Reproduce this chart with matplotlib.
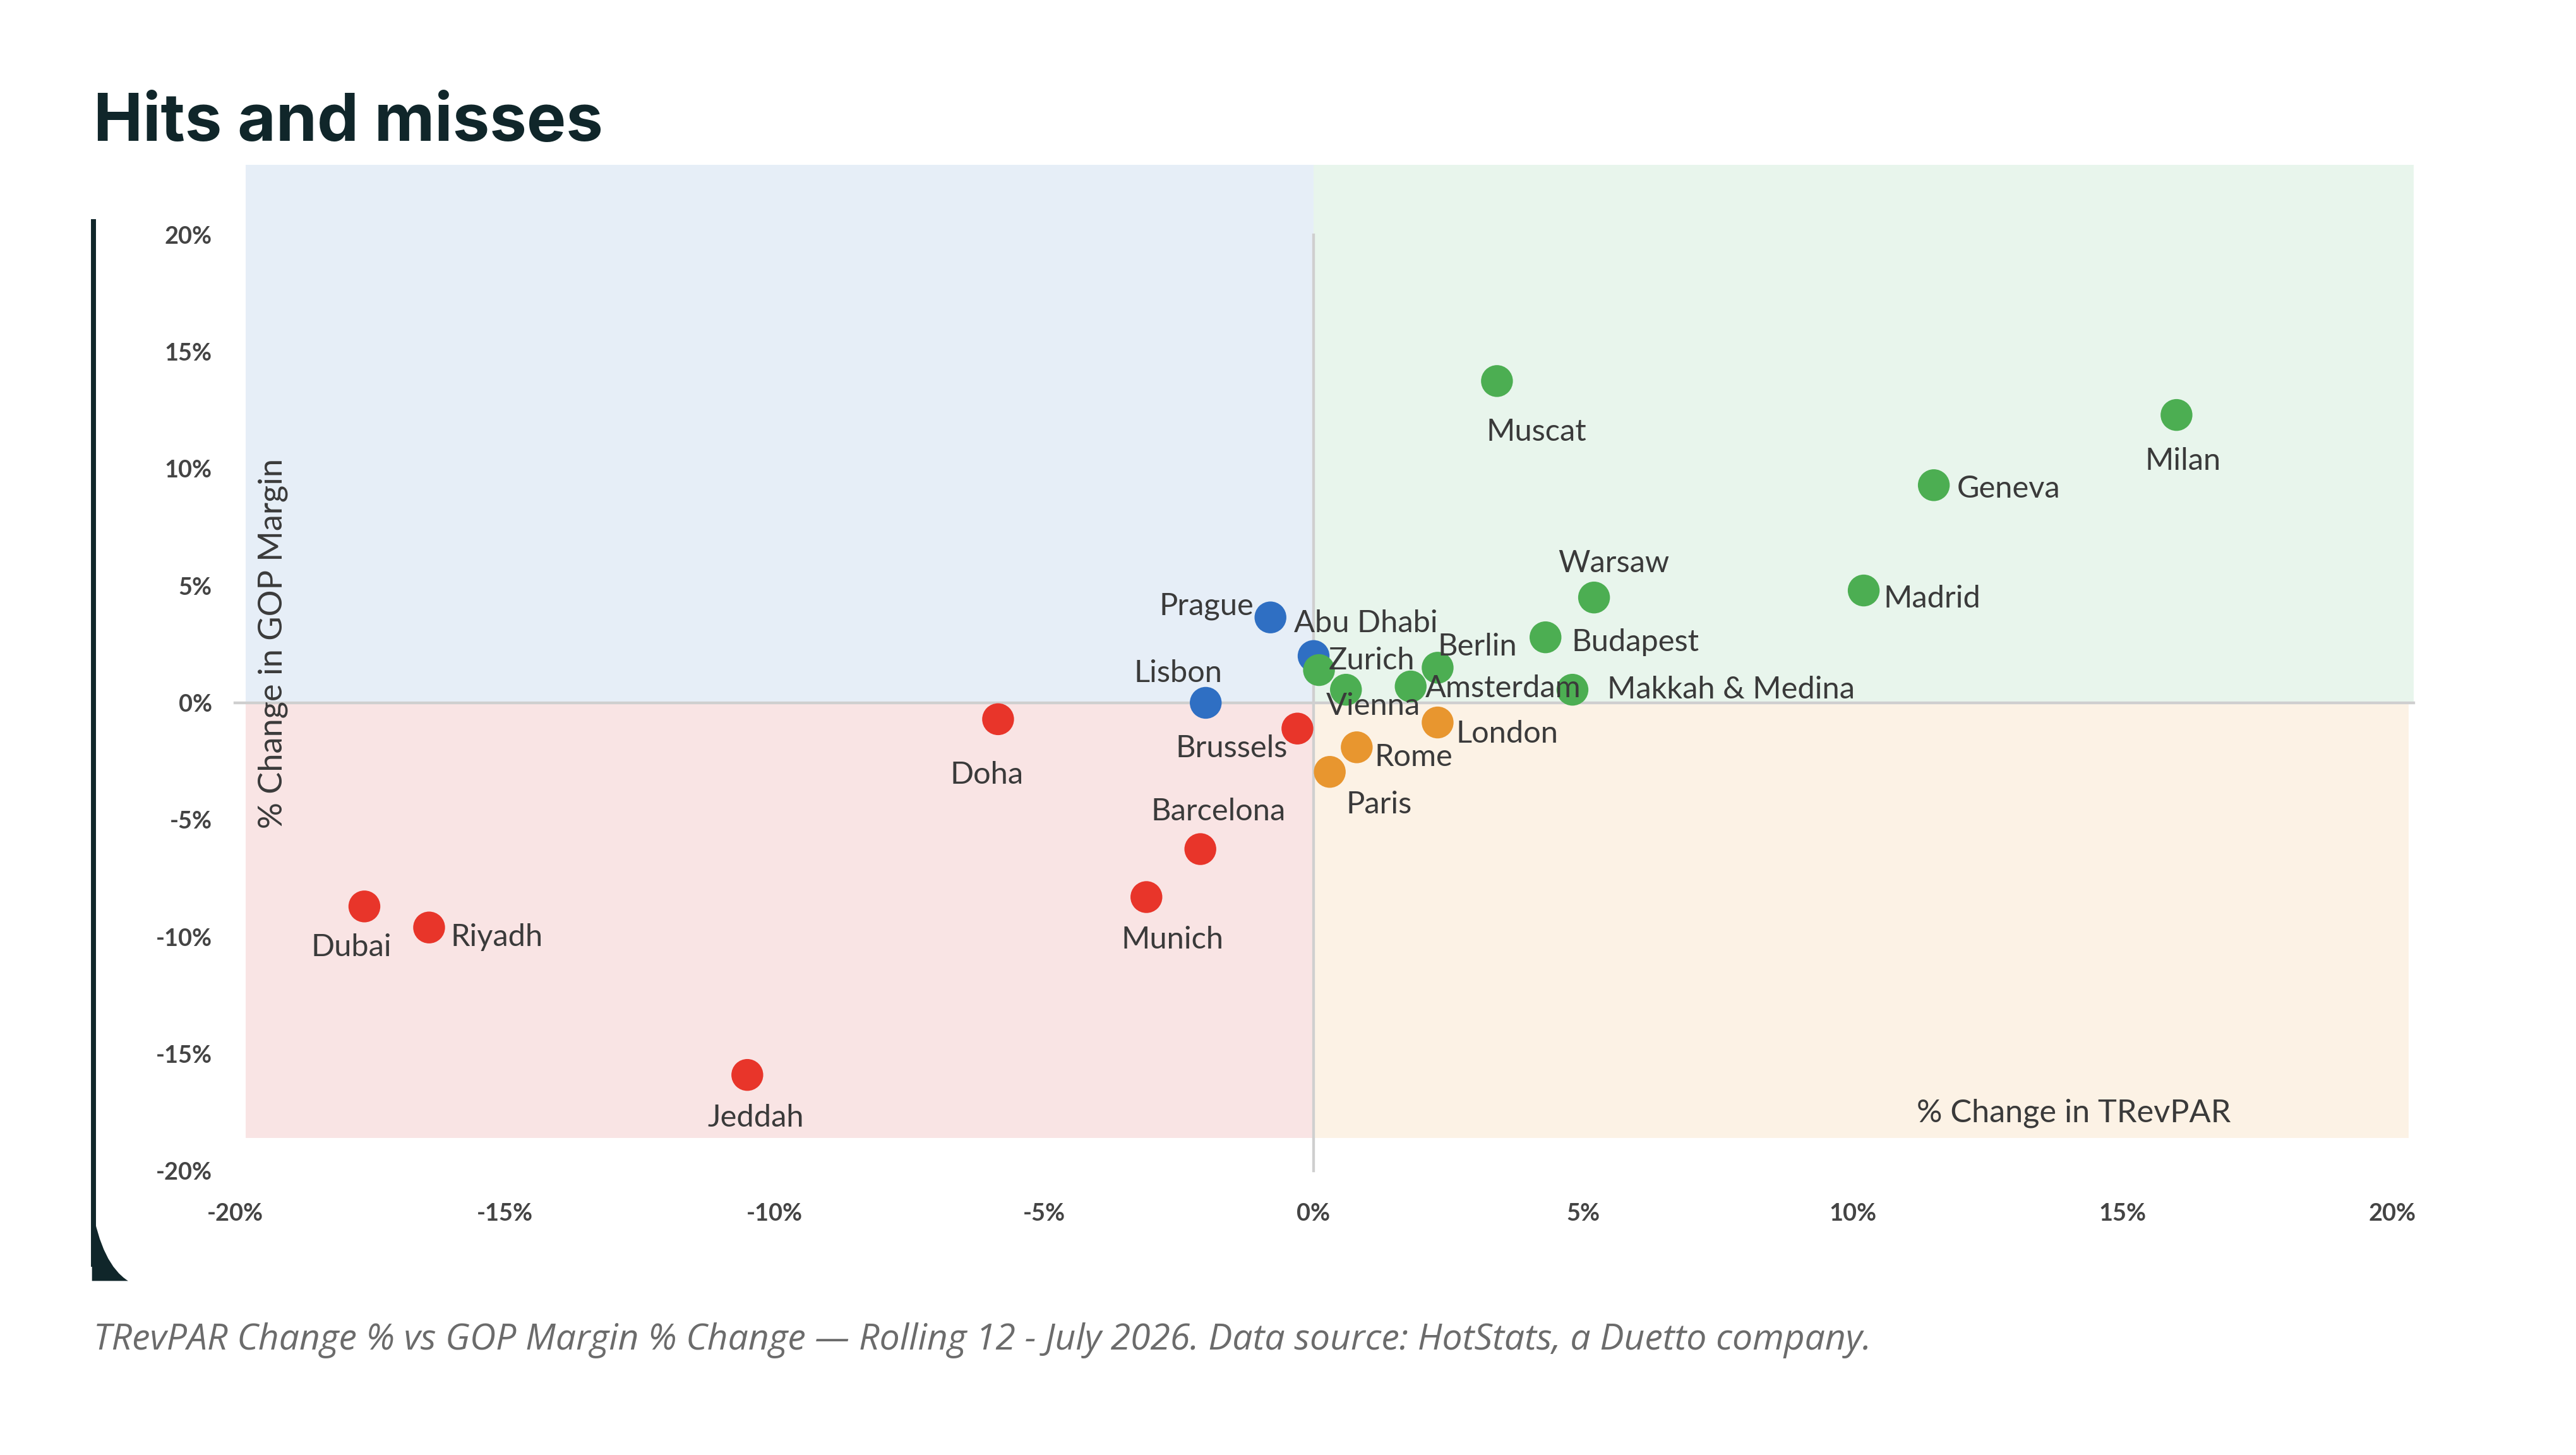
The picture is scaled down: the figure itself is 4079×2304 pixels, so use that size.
import matplotlib
matplotlib.use("Agg")
import matplotlib.pyplot as plt
from matplotlib.patches import Rectangle, PathPatch
from matplotlib.path import Path

cities = ["Prague", "Abu Dhabi", "Lisbon",
          "Zurich", "Vienna", "Amsterdam", "Berlin", "Budapest", "Warsaw",
          "Makkah & Medina", "Madrid", "Geneva", "Milan", "Muscat",
          "Doha", "Brussels", "Barcelona", "Munich", "Dubai", "Riyadh", "Jeddah",
          "London", "Rome", "Paris"]
trevpar = [-0.8, 0.0, -2.0,
           0.1, 0.6, 1.8, 2.3, 4.3, 5.2,
           4.8, 10.2, 11.5, 16.0, 3.4,
           -5.85, -0.3, -2.1, -3.1, -17.6, -16.4, -10.5,
           2.3, 0.8, 0.3]
gop = [3.65, 2.0, 0.0,
       1.4, 0.56, 0.7, 1.5, 2.8, 4.5,
       0.56, 4.8, 9.3, 12.3, 13.75,
       -0.7, -1.1, -6.25, -8.3, -8.7, -9.6, -15.9,
       -0.84, -1.9, -2.95]
groups = ["blue"] * 3 + ["green"] * 11 + ["red"] * 7 + ["orange"] * 3
tick_vals = [-20, -15, -10, -5, 0, 5, 10, 15, 20]

colors = {"blue": "#2f6fc3", "green": "#4cae52", "red": "#e8352a", "orange": "#e8962f"}
# label offsets (display px of a 1568-wide view) and alignment
label_pos = {
    "Prague": (-10, 7, "right"), "Abu Dhabi": (-12, 20, "left"), "Lisbon": (-17, 18, "center"),
    "Zurich": (6, 6, "left"), "Vienna": (-12, -10, "left"), "Amsterdam": (9, -1, "left"),
    "Berlin": (0, 13, "left"), "Budapest": (16, -3, "left"), "Warsaw": (12, 21, "center"),
    "Makkah & Medina": (21, 0, "left"), "Madrid": (12, -5, "left"), "Geneva": (14, -2, "left"),
    "Milan": (4, -28, "center"), "Muscat": (24, -31, "center"), "Doha": (-7, -34, "center"),
    "Brussels": (-6, -12, "right"), "Barcelona": (11, 23, "center"), "Munich": (16, -26, "center"),
    "Dubai": (-8, -25, "center"), "Riyadh": (13, -6, "left"), "Jeddah": (5, -26, "center"),
    "London": (11, -7, "left"), "Rome": (11, -6, "left"), "Paris": (30, -20, "center"),
}

W, H = 1568, 886
fig = plt.figure(figsize=(15.69, 8.862), dpi=260)
fig.patch.set_facecolor("white")
ax = fig.add_axes([143 / W, 1 - 713 / H, (1456 - 143) / W, (713 - 143) / H])
ax.set_xlim(-20, 20)
ax.set_ylim(-20, 20)
for s in ax.spines.values():
    s.set_visible(False)
ax.set_facecolor("none")

quads = [(-19.8, 0, 19.8, 23.0, "#e6eef7"), (0, 0, 20.4, 23.0, "#e8f5ec"),
         (-19.8, -18.6, 19.8, 18.6, "#f9e4e4"), (0, -18.6, 20.3, 18.6, "#fcf2e5")]
for x0, y0, w, h, c in quads:
    ax.add_patch(Rectangle((x0, y0), w, h, facecolor=c, edgecolor="none", zorder=0, clip_on=False))
ax.plot([-20, 20.4], [0, 0], color="#cfcfcf", lw=1.2, zorder=1, clip_on=False)
ax.plot([0, 0], [-20, 20], color="#cfcfcf", lw=1.2, zorder=1, clip_on=False)

ax.set_xticks(tick_vals)
ax.set_yticks(tick_vals)
ax.set_xticklabels([f"{v}%" for v in tick_vals])
ax.set_yticklabels([f"{v}%" for v in tick_vals])
ax.tick_params(length=0, labelsize=10.5, colors="#444444")
ax.tick_params(axis="x", pad=14)
ax.tick_params(axis="y", pad=10)
for lab in ax.get_xticklabels() + ax.get_yticklabels():
    lab.set_fontfamily("Lato")
    lab.set_fontweight("bold")

k = 0.72
for c, x, y, g in zip(cities, trevpar, gop, groups):
    ax.scatter([x], [y], s=195, color=colors[g], edgecolors="none", zorder=3, clip_on=False)
    dx, dy, ha = label_pos[c]
    ax.annotate(c, (x, y), xytext=(dx * k, dy * k), textcoords="offset points",
                ha=ha, va="center", fontsize=13.5, color="#3a3a3a", family="Lato", zorder=4)

fig.text(166 / W, 1 - 392 / H, "% Change in GOP Margin", rotation=90, ha="center", va="center",
         fontsize=14.5, color="#3a3a3a", family="Lato")
fig.text(1262 / W, 1 - 678 / H, "% Change in TRevPAR", ha="center", va="center",
         fontsize=14, color="#3a3a3a", family="Lato")

fig.text(57 / W, 1 - 75 / H, "Hits and misses", ha="left", va="center", fontsize=29,
         fontweight="bold", color="#10262a", family="Inter")
fig.text(57 / W, 1 - 816 / H, "TRevPAR Change % vs GOP Margin % Change \u2014 Rolling 12 - July 2026. Data source: HotStats, a Duetto company.",
         ha="left", va="center", fontsize=15.8, style="italic", color="#6b6b6b", family="Open Sans")

fax = fig.add_axes([0, 0, 1, 1], zorder=-1)
fax.set_xlim(0, W)
fax.set_ylim(H, 0)
fax.axis("off")
fax.plot([57, 57], [135, 770], color="#10262a", lw=2.2)
verts = [(56, 735), (56, 780), (78, 780), (62, 770), (56, 735)]
codes = [Path.MOVETO, Path.LINETO, Path.LINETO, Path.CURVE3, Path.CURVE3]
fax.add_patch(PathPatch(Path(verts, codes), facecolor="#10262a", edgecolor="none"))

fig.savefig("out.png", dpi=260)
